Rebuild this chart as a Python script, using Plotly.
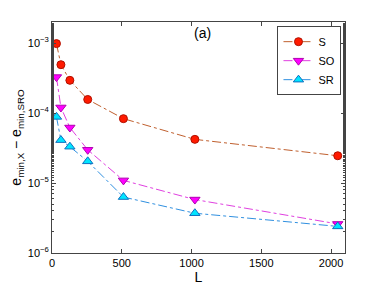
import plotly.graph_objects as go

L = [32, 64, 128, 256, 512, 1024, 2048]
S = [9.8e-4, 4.9e-4, 2.93e-4, 1.56e-4, 8.3e-5, 4.2e-5, 2.45e-5]
SO = [3.26e-4, 1.2e-4, 6.2e-5, 2.98e-5, 1.09e-5, 5.8e-6, 2.6e-6]
SR = [8.8e-5, 4.1e-5, 3.3e-5, 2.04e-5, 6.3e-6, 3.7e-6, 2.4e-6]

xticks = [0, 500, 1000, 1500, 2000]
yticks = [1e-6, 1e-5, 1e-4, 1e-3]
yticktext = ["10<sup>−6</sup>", "10<sup>−5</sup>", "10<sup>−4</sup>", "10<sup>−3</sup>"]

fig = go.Figure()
series = [
    ("S", S, "#c0602f", "circle", "#ff1a00", "#b01000", 8),
    ("SO", SO, "#e040e0", "triangle-down", "#ff00ff", "#b000b0", 9),
    ("SR", SR, "#3090e0", "triangle-up", "#00e5ff", "#1070c0", 9),
]
for name, ys, lc, sym, fc, ec, sz in series:
    fig.add_trace(go.Scatter(
        x=L, y=ys, name=name, mode="lines+markers",
        line=dict(color=lc, width=1, dash="dashdot"),
        marker=dict(symbol=sym, size=sz, color=fc, line=dict(color=ec, width=1)),
    ))

fig.add_annotation(x=1080, y=-2.86, xref="x", yref="y", text="(a)", showarrow=False,
                   font=dict(size=14, color="black"))

fig.update_layout(
    width=382, height=286,
    margin=dict(l=52, r=37, t=22, b=33),
    paper_bgcolor="white", plot_bgcolor="white",
    font=dict(family="Liberation Sans, Arial, sans-serif", size=11, color="black"),
    legend=dict(x=0.988, y=0.982, xanchor="right", yanchor="top",
                bordercolor="#444", borderwidth=1, bgcolor="white",
                font=dict(size=11), itemwidth=30, tracegroupgap=0),
    showlegend=True,
)
fig.update_xaxes(
    range=[0, 2100], tickvals=xticks, ticks="inside", ticklen=4,
    showline=True, linecolor="#444", linewidth=1, mirror="ticks",
    showgrid=False, zeroline=False, automargin=False,
    title=dict(text="L", font=dict(size=14), standoff=0),
)
fig.update_yaxes(
    type="log", range=[-6, -2.7], tickvals=yticks, ticktext=yticktext,
    ticks="inside", ticklen=4,
    showline=True, linecolor="#444", linewidth=1, mirror="ticks",
    showgrid=False, zeroline=False, automargin=False,
    minor=dict(ticks="inside", ticklen=2, tickcolor="#444", showgrid=False),
    title=dict(text="e<sub>min,X</sub> − e<sub>min,SRO</sub>", font=dict(size=14), standoff=2),
)

fig.write_html("out.html", config={"displayModeBar": False},
               post_script="document.body.style.margin='0';document.body.style.overflow='hidden';")
